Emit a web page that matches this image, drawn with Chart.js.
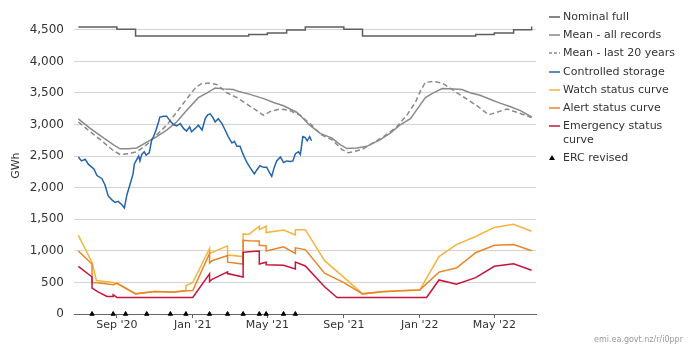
<!DOCTYPE html>
<html>
<head>
<meta charset="utf-8">
<script src="https://cdn.jsdelivr.net/npm/chart.js@4"></script>
<style>
  body { margin: 0; background: #fff; font-family: "DejaVu Sans", sans-serif; }
  #wrap { position: relative; width: 690px; height: 346px; }
  #legend { position: absolute; left: 549px; top: 10px; font-size: 11px; color: #333; }
  .item { display: flex; align-items: flex-start; line-height: 14px; margin-bottom: 4.2px; }
  .item svg { flex: none; margin-top: 5px; margin-right: 3px; }
  .item span { max-width: 122px; }
  #source { position: absolute; right: 7px; top: 335px; font-size: 8px; color: #999; }
</style>
</head>
<body>
<div id="wrap">
  <canvas id="chart" width="690" height="346"></canvas>
  <div id="legend"></div>
  <div id="source">emi.ea.govt.nz/r/i0ppr</div>
</div>
<script>
// x values are days since 1 Jul 2020
const tickDays = [62, 184, 304, 427, 549, 669];
const tickLabels = ["Sep '20", "Jan '21", "May '21", "Sep '21", "Jan '22", "May '22"];
const yTicks = [0, 500, 1000, 1500, 2000, 2500, 3000, 3500, 4000, 4500];

const nominalFull = [[0,4546],[62,4508],[92,4403],[274,4428],[304,4449],[335,4497],[365,4546],
  [427,4508],[457,4403],[639,4428],[669,4449],[700,4500],[729,4552]];

const meanAll = [[0,3090],[19,2939],[40,2794],[56,2681],[67,2615],[80,2615],[94,2630],[110,2723],
  [126,2810],[142,2913],[158,3041],[174,3221],[193,3426],[207,3503],[220,3580],[233,3565],[249,3555],
  [260,3518],[276,3478],[298,3411],[314,3349],[330,3298],[351,3195],[357,3144],[372,2990],[389,2861],
  [408,2785],[421,2681],[432,2620],[448,2630],[464,2655],[485,2758],[501,2861],[517,2990],[534,3093],
  [547,3272],[558,3426],[571,3503],[585,3570],[598,3565],[617,3555],[630,3503],[646,3463],[662,3401],
  [678,3339],[694,3287],[711,3221],[729,3120]];

const mean20 = [[0,3041],[19,2886],[40,2723],[56,2589],[67,2527],[80,2538],[94,2569],[110,2681],
  [126,2836],[142,2990],[158,3195],[174,3401],[188,3580],[198,3648],[212,3657],[223,3632],[239,3503],
  [255,3426],[271,3324],[287,3221],[298,3144],[308,3205],[324,3247],[340,3221],[357,3144],[373,3010],
  [391,2836],[408,2758],[424,2604],[434,2553],[442,2569],[456,2604],[469,2681],[491,2810],[512,2964],
  [528,3144],[542,3349],[550,3529],[558,3668],[571,3683],[585,3657],[595,3595],[609,3503],[625,3401],
  [641,3298],[660,3154],[673,3195],[689,3247],[705,3195],[729,3110]];

const storage = [[0,2486],[5,2424],[11,2450],[16,2373],[22,2322],[25,2296],[30,2193],[38,2142],
  [43,2039],[48,1869],[54,1808],[59,1767],[64,1783],[70,1731],[74,1680],[78,1885],[82,2014],[88,2219],
  [90,2373],[94,2450],[97,2501],[99,2424],[102,2527],[106,2569],[109,2517],[114,2553],[118,2758],
  [121,2810],[125,2913],[129,3041],[131,3118],[137,3133],[142,3133],[148,3051],[153,3000],[158,2980],
  [164,3015],[169,2939],[174,2897],[179,2964],[182,2886],[188,2939],[193,2990],[199,2913],[204,3093],
  [208,3154],[212,3170],[216,3118],[220,3041],[225,3093],[231,3015],[236,2913],[241,2810],[247,2707],
  [251,2733],[255,2655],[260,2655],[265,2527],[271,2399],[276,2322],[283,2219],[287,2281],[292,2347],
  [298,2322],[303,2322],[307,2245],[311,2178],[315,2322],[319,2424],[325,2486],[330,2399],[335,2424],
  [341,2414],[345,2424],[349,2538],[354,2569],[357,2527],[361,2810],[365,2794],[368,2743],[372,2810],
  [375,2743]];

const watch = [[0,1244],[22,815],[29,530],[56,500],[62,490],[92,322],[123,358],[153,348],[173,372],
  [173,447],[184,498],[211,1037],[211,960],[240,1079],[240,935],[265,909],[265,1268],[274,1260],
  [291,1390],[291,1336],[302,1390],[302,1290],[330,1330],[349,1253],[349,1336],[365,1336],[396,845],
  [427,580],[457,319],[488,354],[518,367],[549,380],[580,909],[608,1099],[639,1228],[669,1371],
  [700,1422],[729,1310]];

const alert = [[0,997],[22,791],[22,498],[31,495],[56,465],[62,485],[92,319],[123,355],[153,345],
  [173,370],[184,372],[211,960],[211,806],[215,843],[240,925],[240,821],[265,791],[265,1166],
  [274,1160],[291,1156],[291,1089],[302,1079],[302,997],[330,1063],[349,960],[349,1048],[365,1020],
  [396,645],[427,498],[457,319],[488,354],[518,367],[549,380],[580,663],[608,729],[639,971],
  [669,1089],[700,1099],[729,1002]];

const emergency = [[0,755],[22,586],[22,411],[31,354],[46,277],[56,277],[56,305],[62,262],[184,262],
  [211,637],[211,514],[215,550],[240,668],[240,640],[265,586],[265,976],[274,985],[291,997],[291,791],
  [302,821],[302,781],[330,771],[349,714],[349,821],[365,760],[396,431],[416,262],[560,262],[580,539],
  [608,473],[639,575],[669,755],[700,797],[729,693]];

const ercDays = [22, 56, 76, 110, 148, 173, 211, 240, 265, 291, 302, 330, 349];

const toXY = (pairs) => pairs.map(([x, y]) => ({ x, y }));

function lineSet(label, pairs, color, order, extra) {
  return Object.assign({
    label: label,
    data: toXY(pairs),
    borderColor: color,
    backgroundColor: color,
    borderWidth: 1.5,
    pointRadius: 0,
    tension: 0,
    order: order
  }, extra || {});
}

const datasets = [
  lineSet("Nominal full", nominalFull, "#5e5e5e", 8, { stepped: true }),
  lineSet("Mean - all records", meanAll, "#8a8a8a", 7),
  lineSet("Mean - last 20 years", mean20, "#8a8a8a", 6, { borderDash: [5, 3] }),
  lineSet("Controlled storage", storage, "#2365a8", 5),
  lineSet("Watch status curve", watch, "#f3b53c", 4),
  lineSet("Alert status curve", alert, "#e8842a", 3),
  lineSet("Emergency status curve", emergency, "#c8143a", 2),
  {
    label: "ERC revised",
    data: ercDays.map((d) => ({ x: d, y: 0 })),
    showLine: false,
    pointStyle: "triangle",
    pointRadius: 2.5,
    pointBorderWidth: 1,
    borderColor: "#000",
    backgroundColor: "#000",
    clip: false,
    order: 1
  }
];

const font = { family: "DejaVu Sans", size: 11 };

new Chart(document.getElementById("chart"), {
  type: "line",
  data: { datasets: datasets },
  options: {
    responsive: false,
    animation: false,
    layout: { padding: { left: 6, right: 154, top: 9, bottom: 0 } },
    plugins: { legend: { display: false }, tooltip: { enabled: false } },
    scales: {
      x: {
        type: "linear",
        min: -7,
        max: 736,
        afterBuildTicks: (axis) => { axis.ticks = tickDays.map((v) => ({ value: v })); },
        afterFit: (axis) => { axis.height = 32; },
        grid: { drawOnChartArea: false, drawTicks: true, tickLength: 4, color: "#666" },
        border: { color: "#666", width: 1 },
        ticks: {
          autoSkip: false,
          maxRotation: 0,
          padding: 1,
          color: "#333",
          font: font,
          callback: (v) => tickLabels[tickDays.indexOf(v)] || ""
        }
      },
      y: {
        min: 0,
        max: 4700,
        afterBuildTicks: (axis) => { axis.ticks = yTicks.map((v) => ({ value: v })); },
        afterFit: (axis) => { axis.width = 68; },
        grid: { color: "#d4d4d4", lineWidth: 1, drawTicks: false },
        border: { display: false },
        ticks: {
          padding: 10,
          color: "#333",
          font: { family: "DejaVu Sans", size: 12 },
          callback: (v) => v.toLocaleString("en-US")
        },
        title: { display: true, text: "GWh", color: "#333", font: font }
      }
    }
  }
});

// html legend so the long label can wrap like the original
const legend = document.getElementById("legend");
datasets.forEach((ds) => {
  const item = document.createElement("div");
  item.className = "item";
  let marker;
  if (ds.pointStyle === "triangle") {
    marker = '<svg width="11" height="4" viewBox="0 0 11 4" style="overflow:visible"><polygon points="3,-1 6,4 0,4" fill="#000"/></svg>';
  } else {
    const dash = ds.borderDash ? ' stroke-dasharray="3,2"' : "";
    marker = `<svg width="11" height="4"><line x1="0" y1="2" x2="11" y2="2" stroke="${ds.borderColor}" stroke-width="1.5"${dash}/></svg>`;
  }
  item.innerHTML = marker + `<span>${ds.label}</span>`;
  legend.appendChild(item);
});
</script>
</body>
</html>
